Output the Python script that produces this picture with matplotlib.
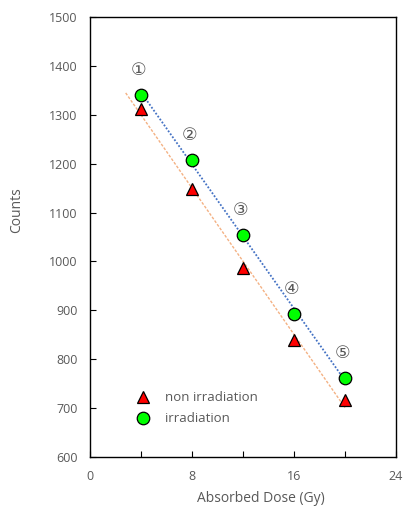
import numpy as np
import matplotlib.pyplot as plt
from matplotlib.ticker import MultipleLocator

plt.rcParams['font.family'] = ['Open Sans', 'DejaVu Sans']

dose = [4, 8, 12, 16, 20]
non_irr = [1311, 1148, 987, 839, 717]
irr = [1341, 1207, 1054, 893, 761]
tags = ['\u2460', '\u2461', '\u2462', '\u2463', '\u2464']

grey = '#595959'

fig = plt.figure(figsize=(4.03, 5.08), dpi=100)
ax = fig.add_axes([90/403, 1-457/508, 306/403, 440/508])

# linear trendlines
p_red = np.polyfit(dose, non_irr, 1)
p_grn = np.polyfit(dose, irr, 1)
xr = np.array([2.8, 20])
xg = np.array([4, 20])
ax.plot(xr, np.polyval(p_red, xr), ls=(0, (2, 1.2)), color='#f4b183', lw=1.0, zorder=1)
ax.plot(xg, np.polyval(p_grn, xg), ls=(0, (1, 1)), color='#4472c4', lw=1.3, zorder=1)

ax.plot(dose, non_irr, ls='none', marker='^', ms=8.5, mfc='#ff0000', mec='black', mew=0.9,
        label='non irradiation', zorder=3)
ax.plot(dose, irr, ls='none', marker='o', ms=9, mfc='#00ff00', mec='black', mew=0.9,
        label='irradiation', zorder=3)

for x, y, t in zip(dose, irr, tags):
    ax.annotate(t, (x, y), xytext=(-2, 18), textcoords='offset points', ha='center',
                va='center', fontsize=12.5, color=grey, family=['DejaVu Sans'])

ax.set_xlim(0, 24)
ax.set_ylim(600, 1500)
ax.xaxis.set_major_locator(MultipleLocator(8))
ax.xaxis.set_minor_locator(MultipleLocator(4))
ax.yaxis.set_major_locator(MultipleLocator(100))
ax.tick_params(which='both', direction='in', length=4, width=0.8, colors='black',
               labelcolor=grey, labelsize=9)
ax.tick_params(axis='x', pad=9)
ax.tick_params(axis='y', pad=9)
for s in ax.spines.values():
    s.set_linewidth(1.0)

ax.set_xlabel('Absorbed Dose (Gy)', color=grey, fontsize=10)
ax.set_ylabel('Counts', color=grey, fontsize=10)
ax.xaxis.set_label_coords(0.56, -0.078)
ax.yaxis.set_label_coords(-0.215, 0.56)

ax.legend(loc='lower left', bbox_to_anchor=(0.11, 0.045), frameon=False, fontsize=9.5,
          labelcolor=grey, handletextpad=1.0, labelspacing=0.6, handlelength=1.2)

fig.savefig('out.png', dpi=100)
